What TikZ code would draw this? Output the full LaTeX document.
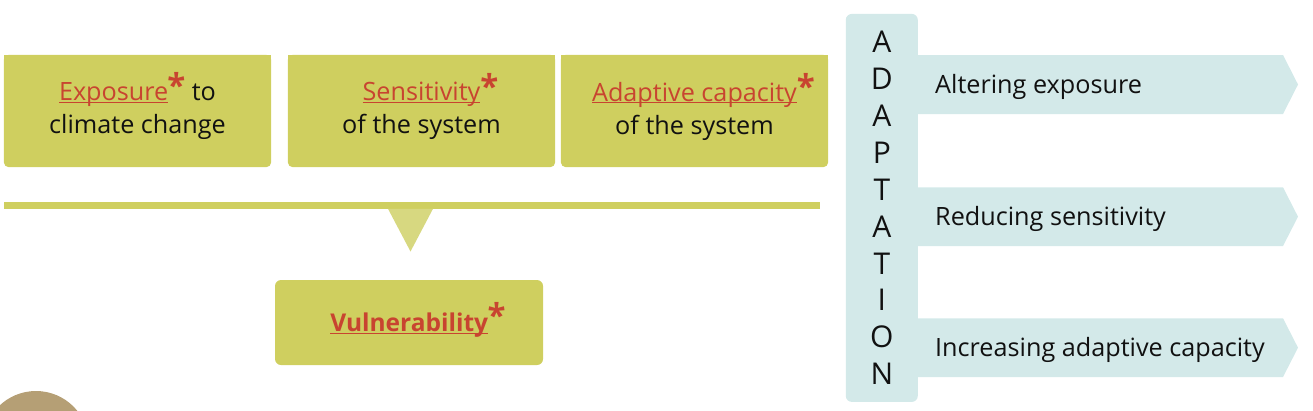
\documentclass[tikz,border=0pt]{standalone}
\usepackage{fontspec}
\setmainfont{Open Sans}
\usetikzlibrary{backgrounds}
\definecolor{olivebox}{RGB}{207,207,95}
\definecolor{olivetri}{RGB}{215,216,128}
\definecolor{adcyan}{RGB}{211,233,233}
\definecolor{redtxt}{RGB}{200,68,48}
\definecolor{tanc}{RGB}{181,159,117}
\definecolor{inkc}{RGB}{17,17,17}
\newcommand{\ulr}[1]{\setbox0\hbox{{\color{redtxt}#1}}\rlap{{\color{redtxt}\rule[-2.4pt]{\wd0}{1pt}}}\box0}
\newcommand{\redast}[1][2.5pt]{\smash{{\color{redtxt}\raisebox{#1}{\fontsize{33}{33}\selectfont\bfseries *}}}}
\newcommand{\redastl}[1][2.5pt]{\rlap{\redast[#1]}}
\tikzset{
  topbox/.style={minimum width=267pt, minimum height=112pt, inner sep=0pt, align=center,
    font=\fontsize{25.2}{33}\selectfont, text=inkc},
  vulbox/.style={minimum width=268pt, minimum height=85pt, inner sep=0pt, fill=olivebox,
    rounded corners=6pt, text depth=0pt, font=\fontsize{24.5}{33}\selectfont\bfseries},
  adbox/.style={minimum width=72pt, minimum height=388pt, inner sep=0pt, fill=adcyan,
    rounded corners=6pt, align=center, font=\fontsize{30}{36.9}\selectfont, text=inkc},
  arrfill/.style={fill=adcyan},
  arrtxt/.style={anchor=base west, inner sep=0pt, font=\fontsize{25.2}{33}\selectfont, text=inkc},
}
\begin{document}
\begin{tikzpicture}[x=1pt,y=-1pt]
\useasboundingbox (0,0) rectangle (1313,410);
% top boxes
\node[topbox] (exp) at (137.5,111) {\ulr{Exposure}\kern-1pt\redast{} to\\climate change};
\node[topbox] (sen) at (421.5,111) {\ulr{Sensitivity}\redastl\\of the system};
\node[topbox] (cap) at (694.5,111) {\ulr{Adaptive capacity}\redastl\\of the system};
\begin{scope}[on background layer]
  \foreach \b in {exp,sen,cap}{
    \fill[olivebox, rounded corners=5pt] (\b.north west) rectangle (\b.south east);
    \fill[olivebox] (\b.north west) rectangle ([yshift=-12pt]\b.north east);
  }
\end{scope}
% bar and pointer
\coordinate (barl) at (4,205.5);
\coordinate (barr) at (820,205.5);
\draw[olivebox, line width=6.5pt] (barl) -- (barr);
\coordinate (tril) at (388,208.8);
\coordinate (trir) at (433,208.8);
\coordinate (trip) at (410.5,251.5);
\fill[olivetri] (tril) -- (trir) -- (trip) -- cycle;
% vulnerability
\node[vulbox] (vul) at (409,322.5) {\ulr{Vulnerability}\kern-0.5pt\redastl[4pt]};
% circle
\fill[tanc] (36,444) circle (53pt);
% arrows
\fill[arrfill] (900,55) -- (1283,55) -- (1298,84.5) -- (1283,114) -- (900,114) -- cycle;
\fill[arrfill] (900,187.3) -- (1283,187.3) -- (1298,216.7) -- (1283,246) -- (900,246) -- cycle;
\fill[arrfill] (900,318.3) -- (1283,318.3) -- (1298,347.7) -- (1283,377) -- (900,377) -- cycle;
\node[arrtxt] (a1) at (935,93.3) {Altering exposure};
\node[arrtxt] (a2) at (935,225.5) {Reducing sensitivity};
\node[arrtxt] (a3) at (935,356.5) {Increasing adaptive capacity};
% adaptation column
\node[adbox] (adapt) at (881.8,207.9) {A\\D\\A\\P\\T\\A\\T\\I\\O\\N};
\end{tikzpicture}
\end{document}
